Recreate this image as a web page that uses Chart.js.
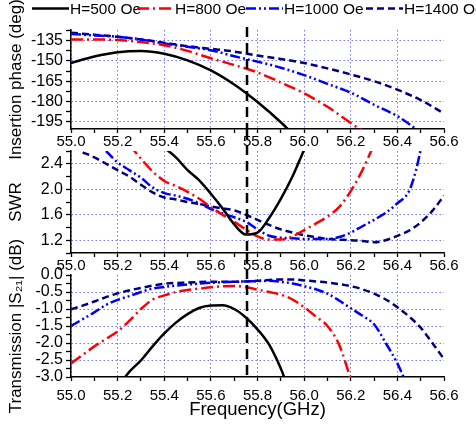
<!DOCTYPE html>
<html>
<head>
<meta charset="utf-8">
<script src="https://cdn.jsdelivr.net/npm/chart.js@4.4.1/dist/chart.umd.min.js"></script>
<style>
  html, body { margin: 0; padding: 0; background: #fff; }
  #wrap { position: relative; width: 476px; height: 425px; overflow: hidden; font-family: 'Liberation Sans', Arial, sans-serif; }
  #wrap canvas { position: absolute; left: 0; top: 0; }
  .leg { position: absolute; top: 0; height: 18px; display: flex; align-items: center; font-size: 15.5px; white-space: nowrap; color: #000; }
  .leg svg { margin-right: 1px; }
</style>
</head>
<body>
<div id="wrap">
  <canvas id="phaseCanvas" width="476" height="425"></canvas>
  <canvas id="swrCanvas" width="476" height="425"></canvas>
  <canvas id="s21Canvas" width="476" height="425"></canvas>
  <div id="legend"></div>
</div>
<script>
// series
const seriesNames = ['H=500 Oe', 'H=800 Oe', 'H=1000 Oe', 'H=1400 Oe'];

// frequency marker (GHz)
const markerFreq = 55.755;

// shared x ticks
const xMajor = [55.0, 55.2, 55.4, 55.6, 55.8, 56.0, 56.2, 56.4, 56.6];
const xMinor = [55.1, 55.3, 55.5, 55.7, 55.9, 56.1, 56.3, 56.5];
const xTickLabels = ['55.0', '55.2', '55.4', '55.6', '55.8', '56.0', '56.2', '56.4', '56.6'];

// insertion phase (deg)
const phaseFreq500 = [55.0, 55.1, 55.2, 55.3, 55.4, 55.5, 55.6, 55.7, 55.8, 55.9, 55.95];
const phase500 = [-151.5, -146.7, -143.5, -142.6, -144.6, -149.5, -157, -167.5, -180.5, -195.5, -204];
const phaseFreq800 = [55.0, 55.1, 55.2, 55.3, 55.4, 55.5, 55.6, 55.7, 55.8, 55.9, 56.0, 56.1, 56.2, 56.3];
const phase800 = [-134, -134, -134.5, -136, -138.3, -142.5, -148, -153, -158.5, -166, -174, -184, -196, -208];
const phaseFreq1000 = [55.0, 55.1, 55.2, 55.3, 55.4, 55.5, 55.6, 55.7, 55.8, 55.9, 56.0, 56.1, 56.2, 56.3, 56.4, 56.5];
const phase1000 = [-130, -131, -132, -134, -137, -139.5, -142, -146.5, -150.5, -155, -160.5, -167, -173.5, -182.5, -191, -203];
const phaseFreq1400 = [55.0, 55.1, 55.2, 55.3, 55.4, 55.5, 55.6, 55.7, 55.8, 55.9, 56.0, 56.1, 56.2, 56.3, 56.4, 56.5, 56.6];
const phase1400 = [-129, -130.5, -132, -134, -136.5, -139, -141, -143, -146, -148.5, -151.5, -155.5, -160, -165, -171.3, -179, -189];
const phaseMajor = [-195, -180, -165, -150, -135];
const phaseMinor = [-187.5, -172.5, -157.5, -142.5, -127.5];
const phaseTickLabels = ['-195', '-180', '-165', '-150', '-135'];

// SWR
const swrFreq500 = [55.40, 55.45, 55.5, 55.55, 55.6, 55.65, 55.7, 55.75, 55.8, 55.85, 55.9, 55.95, 56.0, 56.02];
const swr500 = [2.65, 2.5, 2.3, 2.14, 1.93, 1.7, 1.45, 1.29, 1.32, 1.55, 1.85, 2.2, 2.62, 2.8];
const swrFreq800 = [55.25, 55.3, 55.35, 55.4, 55.45, 55.5, 55.55, 55.6, 55.65, 55.7, 55.75, 55.8, 55.85, 55.9, 55.95, 56.0, 56.05, 56.1, 56.15, 56.2, 56.25, 56.3];
const swr800 = [2.7, 2.48, 2.28, 2.13, 2.05, 1.96, 1.85, 1.72, 1.6, 1.49, 1.37, 1.26, 1.21, 1.21, 1.26, 1.36, 1.46, 1.57, 1.72, 1.97, 2.3, 2.7];
const swrFreq1000 = [55.15, 55.2, 55.25, 55.3, 55.35, 55.4, 55.45, 55.5, 55.55, 55.6, 55.65, 55.7, 55.75, 55.8, 55.85, 55.9, 55.95, 56.0, 56.05, 56.1, 56.15, 56.2, 56.25, 56.3, 56.35, 56.4, 56.45, 56.48, 56.5];
const swr1000 = [2.6, 2.42, 2.3, 2.18, 2.03, 1.94, 1.9, 1.85, 1.78, 1.69, 1.62, 1.56, 1.49, 1.37, 1.27, 1.24, 1.23, 1.22, 1.22, 1.22, 1.25, 1.32, 1.42, 1.52, 1.63, 1.78, 1.97, 2.3, 2.62];
const swrFreq1400 = [55.05, 55.1, 55.15, 55.2, 55.25, 55.3, 55.35, 55.4, 55.45, 55.5, 55.55, 55.6, 55.65, 55.7, 55.75, 55.8, 55.85, 55.9, 55.95, 56.0, 56.05, 56.1, 56.15, 56.2, 56.25, 56.3, 56.35, 56.4, 56.45, 56.5, 56.55, 56.6];
const swr1400 = [2.58, 2.5, 2.4, 2.3, 2.2, 2.07, 1.95, 1.87, 1.84, 1.8, 1.77, 1.73, 1.7, 1.67, 1.6, 1.52, 1.44, 1.37, 1.32, 1.28, 1.25, 1.22, 1.21, 1.2, 1.19, 1.17, 1.2, 1.27, 1.35, 1.48, 1.66, 1.9];
const swrMajor = [1.2, 1.6, 2.0, 2.4];
const swrMinor = [1.0, 1.4, 1.8, 2.2, 2.6];
const swrTickLabels = ['1.2', '1.6', '2.0', '2.4'];

// transmission |S21| (dB)
const s21Freq500 = [55.2, 55.25, 55.3, 55.35, 55.4, 55.45, 55.5, 55.55, 55.6, 55.65, 55.7, 55.75, 55.8, 55.85, 55.9, 55.92];
const s21_500 = [-3.3, -2.85, -2.51, -2.1, -1.72, -1.4, -1.15, -0.97, -0.9, -0.89, -1.0, -1.25, -1.6, -2.05, -2.75, -3.1];
const s21Freq800 = [55.0, 55.05, 55.1, 55.15, 55.2, 55.25, 55.3, 55.35, 55.4, 55.45, 55.5, 55.55, 55.6, 55.65, 55.7, 55.75, 55.8, 55.85, 55.9, 55.95, 56.0, 56.05, 56.1, 56.15, 56.2];
const s21_800 = [-2.6, -2.35, -2.1, -1.88, -1.66, -1.35, -1.0, -0.72, -0.6, -0.5, -0.44, -0.4, -0.36, -0.33, -0.32, -0.36, -0.43, -0.5, -0.58, -0.72, -0.95, -1.22, -1.5, -2.05, -3.05];
const s21Freq1000 = [55.0, 55.05, 55.1, 55.15, 55.2, 55.25, 55.3, 55.35, 55.4, 55.5, 55.6, 55.7, 55.8, 55.85, 55.9, 55.95, 56.0, 56.05, 56.1, 56.15, 56.2, 56.25, 56.3, 56.35, 56.4, 56.43];
const s21_1000 = [-1.5, -1.3, -1.1, -0.88, -0.73, -0.62, -0.5, -0.4, -0.35, -0.28, -0.23, -0.2, -0.18, -0.17, -0.2, -0.25, -0.33, -0.42, -0.55, -0.75, -0.98, -1.2, -1.45, -2.0, -2.6, -3.05];
const s21Freq1400 = [55.0, 55.05, 55.1, 55.15, 55.2, 55.3, 55.4, 55.5, 55.6, 55.7, 55.8, 55.9, 55.95, 56.0, 56.1, 56.2, 56.25, 56.3, 56.35, 56.4, 56.45, 56.5, 56.55, 56.6];
const s21_1400 = [-1.01, -0.9, -0.78, -0.65, -0.54, -0.38, -0.26, -0.22, -0.2, -0.2, -0.17, -0.13, -0.13, -0.16, -0.22, -0.33, -0.42, -0.55, -0.72, -0.95, -1.22, -1.55, -2.0, -2.47];
const s21Major = [-3.0, -2.5, -2.0, -1.5, -1.0, -0.5, 0.0];
const s21Minor = [-2.75, -2.25, -1.75, -1.25, -0.75, -0.25];
const s21TickLabels = ['-3.0', '-2.5', '-2.0', '-1.5', '-1.0', '-0.5', '0.0'];

// look
const seriesColors = ['#000000', '#ff0000', '#0000ff', '#000080'];
const seriesDashes = [[], [12, 4, 2, 4], [10, 3, 2, 3, 2, 3], [7, 4]];
const gridBlue = 'rgba(70, 70, 230, 0.75)';
const fontFamily = "'Liberation Sans', Arial, sans-serif";
// panel boxes in page pixels
const panelBoxes = [
  {top: 30, bottom: 129},
  {top: 151, bottom: 253},
  {top: 275, bottom: 377}
];
const plotLeft = 71;
const plotRight = 444;
const pageHeight = 425;
const pageWidth = 476;

Chart.defaults.font.family = fontFamily;
Chart.defaults.color = '#000';

/**
 * Build dataset list from x/y arrays
 */
function buildDatasets(freqs, values) {
  return freqs.map((xs, i) => ({
    label: seriesNames[i],
    data: xs.map((x, j) => ({x: x, y: values[i][j]})),
    borderColor: seriesColors[i],
    borderDash: seriesDashes[i],
    borderWidth: 2.5,
    pointRadius: 0,
    cubicInterpolationMode: 'monotone',
    fill: false
  }));
}

function sameValue(a, b) {
  return Math.abs(a - b) < 1e-6;
}

// dashed vertical marker, runs through the gap above each panel
const markerPlugin = {
  id: 'freqMarker',
  afterDatasetsDraw(chart, args, opts) {
    const x = chart.scales.x.getPixelForValue(markerFreq);
    const ctx = chart.ctx;
    ctx.save();
    ctx.strokeStyle = '#000';
    ctx.lineWidth = 2.5;
    ctx.setLineDash([10, 6]);
    ctx.beginPath();
    ctx.moveTo(x, opts.from);
    ctx.lineTo(x, chart.chartArea.bottom);
    ctx.stroke();
    ctx.restore();
  }
};

function makePanel(canvasId, idx, yRange, yMajor, yMinor, yLabels, yTitle, datasets, isLast) {
  const box = panelBoxes[idx];
  const from = idx === 0 ? box.top - 3 : panelBoxes[idx - 1].bottom;
  const xAll = xMajor.concat(xMinor).sort((a, b) => a - b);
  const yAll = yMajor.concat(yMinor).sort((a, b) => a - b);
  return new Chart(document.getElementById(canvasId), {
    type: 'line',
    data: {datasets: datasets},
    options: {
      responsive: false,
      animation: false,
      devicePixelRatio: 1,
      layout: {padding: {top: box.top, bottom: 0, left: 0, right: pageWidth - plotRight}},
      plugins: {
        legend: {display: false},
        tooltip: {enabled: false},
        freqMarker: {from: from}
      },
      scales: {
        x: {
          type: 'linear',
          min: xMajor[0],
          max: xMajor[xMajor.length - 1],
          afterBuildTicks: (scale) => {
            scale.ticks = xAll.map(v => ({value: v}));
          },
          afterFit: (scale) => {
            scale.height = pageHeight - box.bottom;
          },
          ticks: {
            autoSkip: false,
            maxRotation: 0,
            minRotation: 0,
            padding: isLast ? 5.5 : 0,
            font: {size: 15},
            callback: (value) => {
              const i = xMajor.findIndex(m => sameValue(m, value));
              return i >= 0 ? xTickLabels[i] : '';
            }
          },
          grid: {
            color: (c) => {
              const v = c.tick ? c.tick.value : NaN;
              const major = xMajor.some(m => sameValue(m, v));
              return major && !sameValue(v, xMajor[xMajor.length - 1]) ? gridBlue : 'transparent';
            },
            lineWidth: 1,
            tickColor: '#000',
            tickWidth: 1.3,
            tickLength: 4
          },
          border: {color: '#000', width: 1.5, dash: [1.5, 2.5]},
          title: {
            display: isLast,
            text: 'Frequency(GHz)',
            font: {size: 18.5},
            padding: {top: 0, bottom: 4}
          }
        },
        y: {
          type: 'linear',
          min: yRange[0],
          max: yRange[1],
          afterBuildTicks: (scale) => {
            scale.ticks = yAll.map(v => ({value: v}));
          },
          afterFit: (scale) => {
            scale.width = plotLeft;
          },
          ticks: {
            autoSkip: false,
            padding: 3,
            font: {size: 16},
            callback: (value) => {
              const i = yMajor.findIndex(m => sameValue(m, value));
              return i >= 0 ? yLabels[i] : '';
            }
          },
          grid: {
            color: (c) => {
              const v = c.tick ? c.tick.value : NaN;
              const major = yMajor.some(m => sameValue(m, v));
              return major && !sameValue(v, yRange[1]) && !sameValue(v, yRange[0]) ? gridBlue : 'transparent';
            },
            lineWidth: 1,
            tickColor: '#000',
            tickWidth: 1.3,
            tickLength: 5
          },
          border: {color: '#000', width: 1.5, dash: [1.5, 2.5]},
          title: {
            display: true,
            text: yTitle,
            font: {size: 17},
            padding: {top: 6, bottom: 0}
          }
        }
      }
    },
    plugins: [markerPlugin]
  });
}

makePanel('phaseCanvas', 0, [-200.5, -127],
  phaseMajor, phaseMinor, phaseTickLabels, 'Insertion phase (deg)',
  buildDatasets([phaseFreq500, phaseFreq800, phaseFreq1000, phaseFreq1400], [phase500, phase800, phase1000, phase1400]),
  false);

makePanel('swrCanvas', 1, [1.0, 2.6],
  swrMajor, swrMinor, swrTickLabels, 'SWR',
  buildDatasets([swrFreq500, swrFreq800, swrFreq1000, swrFreq1400], [swr500, swr800, swr1000, swr1400]),
  false);

makePanel('s21Canvas', 2, [-3.0, 0.0],
  s21Major, s21Minor, s21TickLabels, 'Transmission |S\u2082\u2081| (dB)',
  buildDatasets([s21Freq500, s21Freq800, s21Freq1000, s21Freq1400], [s21_500, s21_800, s21_1000, s21_1400]),
  true);

// legend row
const legendLefts = [32, 137, 246, 366];
const legend = document.getElementById('legend');
seriesNames.forEach((name, i) => {
  const item = document.createElement('div');
  item.className = 'leg';
  item.style.left = legendLefts[i] + 'px';
  const dash = seriesDashes[i].length ? seriesDashes[i].join(' ') : 'none';
  item.innerHTML = '<svg width="37" height="18"><line x1="0" y1="8.5" x2="37" y2="8.5" stroke="' +
    seriesColors[i] + '" stroke-width="2.5" stroke-dasharray="' + dash + '"/></svg><span>' + name + '</span>';
  legend.appendChild(item);
});
</script>
</body>
</html>
